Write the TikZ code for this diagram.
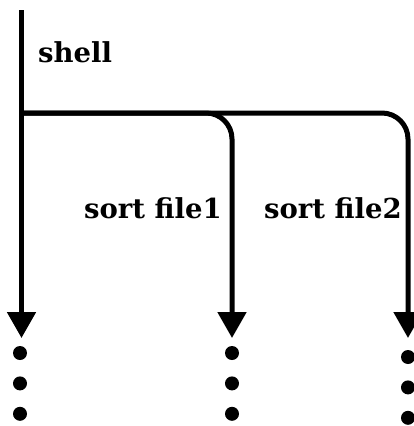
\documentclass[tikz,border=0pt]{standalone}
\usepackage{fontspec}
\setmainfont{DejaVu Serif}
\usetikzlibrary{arrows.meta,positioning}

\begin{document}
\begin{tikzpicture}[
    x=1pt,y=-1pt,
    flow/.style={line width=5pt,rounded corners=26pt},
    dot/.style={circle,fill=black,inner sep=0pt,minimum size=14pt},
    label/.style={font=\bfseries\fontsize{27.5}{31}\selectfont,inner sep=0pt},
    >={Triangle[length=26pt,width=28pt]}
  ]
  \useasboundingbox (0,0) rectangle (413,426);

  %% Process lines
  \coordinate (top) at (21.5,10);
  \coordinate (split) at (21.5,113);
  \coordinate (t1) at (21.5,338);
  \coordinate (t2) at (232,338);
  \coordinate (t3) at (408,338);

  \draw[flow,->] (top) -- (t1);
  \draw[flow,->] (split) -| (t2);
  \draw[flow,->] (split) -| (t3);

  %% Labels
  \node[label,anchor=base west] (shell) at (38,62) {shell};
  \node[label,anchor=base east] (sort1) at (222,218) {sort file1};
  \node[label,anchor=base east] (sort2) at (402,218) {sort file2};

  %% Dots
  \foreach \i/\x/\y in {1/20/353,2/232/353,3/408/357}{
    \node[dot] (d\i a) at (\x,\y) {};
    \node[dot,below=16pt of d\i a] (d\i b) {};
    \node[dot,below=16pt of d\i b] (d\i c) {};
  }
\end{tikzpicture}
\end{document}
